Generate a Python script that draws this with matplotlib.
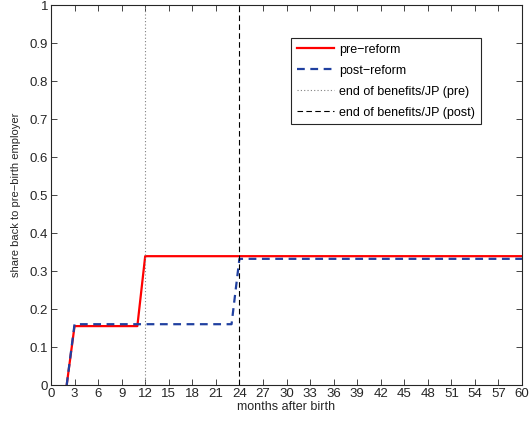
import matplotlib
matplotlib.use("Agg")
import matplotlib.pyplot as plt
import numpy as np

plt.rcParams['font.family'] = ['Liberation Sans', 'DejaVu Sans']

months_pre = [2, 3, 11, 12, 60]
share_pre = [0.0, 0.155, 0.155, 0.339, 0.339]
months_post = [2, 3, 23, 24, 60]
share_post = [0.0, 0.160, 0.160, 0.332, 0.332]
end_pre = 12
end_post = 24
xticks = list(range(0, 61, 3))
yticks = [0, 0.1, 0.2, 0.3, 0.4, 0.5, 0.6, 0.7, 0.8, 0.9, 1]

fig = plt.figure(figsize=(5.29, 4.22), dpi=100)
ax = fig.add_axes([51/529, 1-385/422, (522-51)/529, (385-5)/422])

ax.plot(months_pre, share_pre, color='#ff0000', lw=1.6, label='pre\u2212reform')
ax.plot(months_post, share_post, color='#2040a0', lw=1.6, ls=(0, (3.5, 2.5)), label='post\u2212reform')
ax.axvline(end_pre, color='#808080', lw=0.8, ls=(0, (1, 2)), label='end of benefits/JP (pre)')
ax.axvline(end_post, color='black', lw=0.8, ls=(0, (5, 3)), label='end of benefits/JP (post)')

ax.set_xlim(0, 60)
ax.set_ylim(0, 1)
ax.set_xticks(xticks)
ax.set_xticklabels([str(t) for t in xticks])
ax.set_yticks(yticks)
ax.set_yticklabels(['0'] + [f'{t:g}' for t in yticks[1:-1]] + ['1'])
ax.tick_params(direction='in', top=True, right=True, labelsize=9.5, length=4, width=0.6, pad=2, colors='#262626')
for s in ax.spines.values():
    s.set_linewidth(0.8)
    s.set_color('#262626')
ax.set_xlabel('months after birth', fontsize=9, labelpad=1, color='#262626')
ax.set_ylabel('share back to pre\u2212birth employer', fontsize=8, labelpad=6, color='#262626')

leg = ax.legend(loc='upper left', bbox_to_anchor=((291-51)/471, (385-38)/380), fontsize=9,
                frameon=True, fancybox=False, edgecolor='#262626', framealpha=1,
                handlelength=3.0, borderpad=0.45, labelspacing=0.72, handletextpad=0.4, borderaxespad=0)
leg.get_frame().set_linewidth(0.8)

fig.savefig('out.png', dpi=100)
